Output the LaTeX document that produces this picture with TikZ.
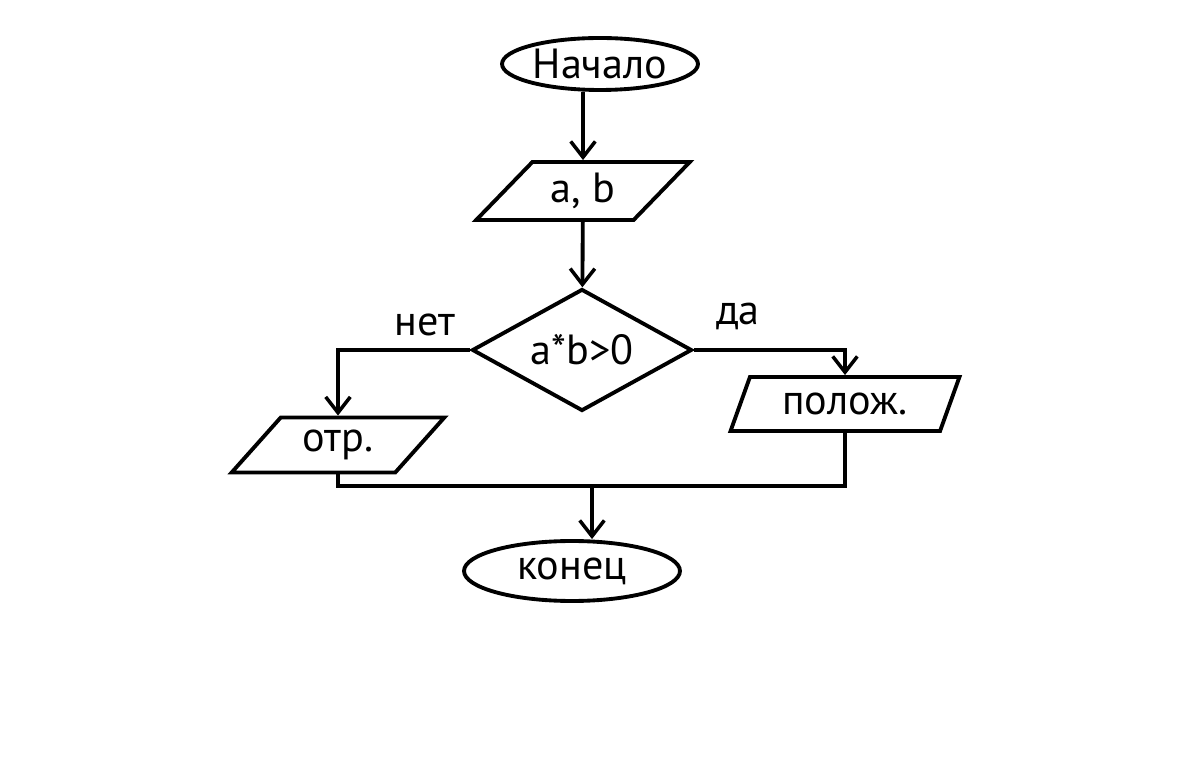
\documentclass[tikz,border=0pt]{standalone}
\usepackage{fontspec}
\setmainfont{PT Sans}
\usetikzlibrary{shapes.geometric,arrows.meta}
\begin{document}
\begin{tikzpicture}[x=0.02cm,y=-0.02cm,line width=2.2pt,
    font=\fontsize{24}{28}\selectfont,
    terminal/.style={draw,ellipse,inner sep=0pt},
    iobox/.style={draw,trapezium,trapezium stretches=true,inner sep=0pt},
    arr/.style={-{Straight Barb[length=9pt,width=14pt,line width=2pt]}}]
        \useasboundingbox (0,0) rectangle (1200,776);
        % Flowchart of the sign of a*b
        \node[terminal,minimum width=3.92cm,minimum height=1.04cm] (start) at (600,64) {Начало};
        \node[iobox,trapezium left angle=45,trapezium right angle=135,minimum width=4.28cm,minimum height=1.16cm] (ab) at (583,191) {a, b};
        \node[draw,diamond,aspect=1.8,inner sep=0pt,minimum width=4.4cm,minimum height=2.44cm] (test) at (582,350) {a*b>0};
        \node[iobox,trapezium left angle=45,trapezium right angle=135,minimum width=4.26cm,minimum height=1.1cm] (neg) at (338,445) {отр.};
        \node[iobox,trapezium left angle=60,trapezium right angle=120,minimum width=4.6cm,minimum height=1.08cm] (pos) at (845,404) {полож.};
        \node[terminal,minimum width=4.32cm,minimum height=1.2cm] (stop) at (572,571) {конец};
        \node (no) at (425,325) {нет};
        \node (yes) at (738,316) {да};
        \coordinate (join) at (592,486);
        \draw[arr] (start.south -| ab) -- (ab);
        \draw[arr] (ab) -- (test);
        \draw[arr] (test.east) -| (pos.north);
        \draw[arr] (test.west) -| (neg.north);
        \draw (neg.south) |- (join) -| (pos.south);
        \draw[arr] (join) -- (stop.north -| join);
    \end{tikzpicture}
\end{document}
